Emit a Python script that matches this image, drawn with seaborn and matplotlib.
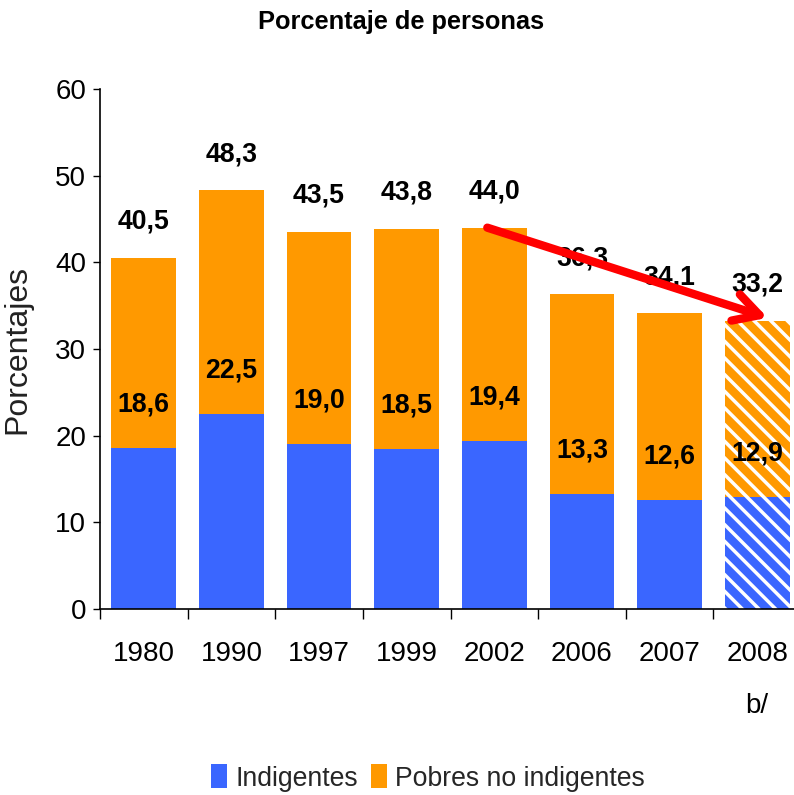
import matplotlib
matplotlib.use('Agg')
import matplotlib.pyplot as plt
import seaborn as sns
import pandas as pd
import numpy as np
from matplotlib import font_manager as fm
from matplotlib.patches import Patch

# ---------------- data ----------------
years = ['1980', '1990', '1997', '1999', '2002', '2006', '2007', '2008']
tick_labels = ['1980', '1990', '1997', '1999', '2002', '2006', '2007', '2008\nb/']
total = [40.5, 48.3, 43.5, 43.8, 44.0, 36.3, 34.1, 33.2]
indigentes = [18.6, 22.5, 19.0, 18.5, 19.4, 13.3, 12.6, 12.9]
series_names = ['Indigentes', 'Pobres no indigentes']
title = 'Porcentaje de personas'
ylabel = 'Porcentajes'
yticks = [0, 10, 20, 30, 40, 50, 60]
projected_year = '2008'
arrow_from_year = '2002'
arrow_to_year = '2008'

# ---------------- style ----------------
sns.set_theme(style='white')
names = {f.name for f in fm.fontManager.ttflist}
if 'Liberation Sans Narrow' in names:
    FONT, SCALE = 'Liberation Sans Narrow', 1.0
else:
    FONT, SCALE = 'Liberation Sans', 0.87
plt.rcParams['font.family'] = [FONT, 'DejaVu Sans']
plt.rcParams['hatch.linewidth'] = 2.5

BLUE = '#3A66FF'
ORANGE = '#FF9900'

fig = plt.figure(figsize=(7.94, 7.95), dpi=100)
ax = fig.add_axes([100 / 794, 186 / 795, 701 / 794, 520 / 795])

df = pd.DataFrame({'year': years, 'total': total, 'ind': indigentes})
sns.barplot(data=df, x='year', y='total', order=years, color=ORANGE, width=0.74,
            saturation=1, ax=ax, linewidth=0, edgecolor='none')
sns.barplot(data=df, x='year', y='ind', order=years, color=BLUE, width=0.74,
            saturation=1, ax=ax, linewidth=0, edgecolor='none')

n = len(years)
proj = years.index(projected_year)
for p in (ax.patches[proj], ax.patches[n + proj]):
    p.set_hatch('\\\\')
    p.set_edgecolor('white')
    p.set_linewidth(0)

def fmt(v):
    return f'{v:.1f}'.replace('.', ',')

LBL = 22 * SCALE
for i in range(n):
    ax.text(i, total[i] + 4.2, fmt(total[i]), ha='center', va='center',
            fontsize=LBL, fontweight='bold', color='black', zorder=5)
    ax.text(i, indigentes[i] + 5.0, fmt(indigentes[i]), ha='center', va='center',
            fontsize=LBL, fontweight='bold', color='black', zorder=5)

# arrow
i0 = years.index(arrow_from_year)
i1 = years.index(arrow_to_year)
ax.annotate('', xy=(i1 + 0.12, total[i1] + 0.4), xytext=(i0 - 0.08, total[i0]),
            arrowprops=dict(arrowstyle='->,head_length=0.6,head_width=0.33',
                            color='#FF0000', lw=6, shrinkA=0, shrinkB=0,
                            mutation_scale=30),
            zorder=10, annotation_clip=False)

# axes
ax.set_xlim(-0.5, n - 0.5)
ax.set_ylim(0, 60)
ax.set_yticks(yticks)
ax.set_yticklabels([str(t) for t in yticks])
ax.set_xticks(range(n))
ax.set_xticklabels(tick_labels, linespacing=2.3)
ax.set_xticks(np.arange(-0.5, n, 1), minor=True)
ax.set_xlabel('')
ax.set_ylabel(ylabel, fontsize=23, family=['Liberation Sans', 'DejaVu Sans'], color='#222222')
ax.yaxis.set_label_coords(-0.096, 0.5)

ax.tick_params(axis='y', left=True, length=5, width=1, color='black',
               labelsize=23 * SCALE, pad=5, labelcolor='black', direction='out')
ax.tick_params(axis='x', which='major', bottom=True, length=0, pad=23,
               labelsize=23 * SCALE, labelcolor='black')
ax.tick_params(axis='x', which='minor', bottom=True, length=7, width=1,
               color='black', direction='out')

for s in ['top', 'right']:
    ax.spines[s].set_visible(False)
for s in ['left', 'bottom']:
    ax.spines[s].set_color('black')
    ax.spines[s].set_linewidth(1.2)

fig.text(401 / 794, 1 - 22 / 795, title, ha='center', va='center',
         fontsize=21 * SCALE, fontweight='bold', color='black')

handles = [Patch(facecolor=BLUE, edgecolor='none'), Patch(facecolor=ORANGE, edgecolor='none')]
fig.legend(handles, series_names, loc='center', bbox_to_anchor=(428 / 794, 17 / 795),
           ncol=2, frameon=False, fontsize=22 * SCALE, handlelength=0.6, handleheight=1.0,
           handletextpad=0.3, columnspacing=0.5)

fig.savefig('out.png', dpi=100)
